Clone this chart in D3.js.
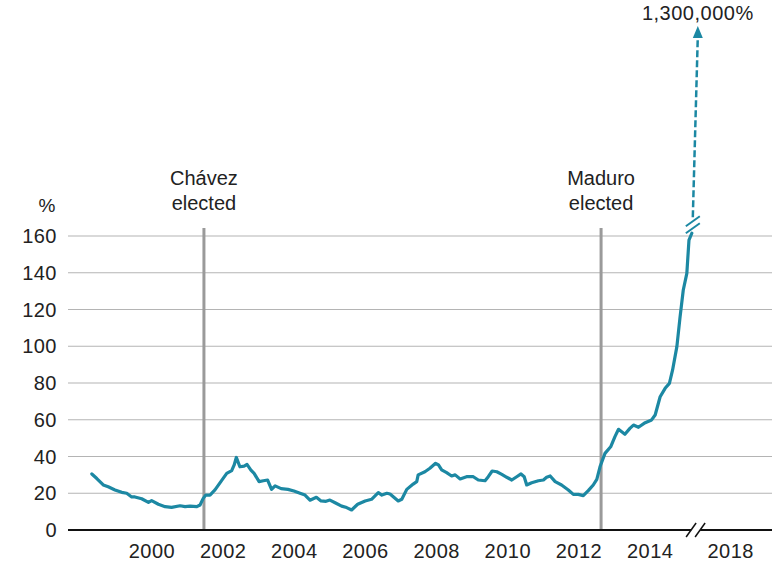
<!DOCTYPE html>
<html>
<head>
<meta charset="utf-8">
<script src="https://cdn.jsdelivr.net/npm/d3@7"></script>
<style>
  body { margin: 0; background: #fff; }
  svg text { font-family: "Liberation Sans", Arial, sans-serif; fill: #222; }
</style>
</head>
<body>
<svg id="chart" width="778" height="571"></svg>
<script>
// inflation, % (year as decimal)
const years = [1998.31, 1998.45, 1998.63, 1998.77, 1998.96, 1999.15, 1999.29, 1999.43, 1999.52, 1999.71,
  1999.90, 1999.99, 2000.18, 2000.37, 2000.55, 2000.79, 2000.93, 2001.07, 2001.26, 2001.35,
  2001.44, 2001.51, 2001.63, 2001.77, 2001.96, 2002.10, 2002.24, 2002.31, 2002.37, 2002.47,
  2002.59, 2002.67, 2002.78, 2002.87, 2003.01, 2003.13, 2003.25, 2003.36, 2003.46, 2003.63,
  2003.82, 2003.99, 2004.16, 2004.30, 2004.44, 2004.62, 2004.75, 2004.89, 2005.00, 2005.16,
  2005.33, 2005.47, 2005.61, 2005.78, 2005.99, 2006.17, 2006.36, 2006.46, 2006.60, 2006.69,
  2006.92, 2007.02, 2007.16, 2007.34, 2007.44, 2007.48, 2007.67, 2007.81, 2007.97, 2008.05,
  2008.14, 2008.28, 2008.42, 2008.52, 2008.66, 2008.84, 2009.03, 2009.17, 2009.36, 2009.45,
  2009.56, 2009.69, 2009.83, 2009.97, 2010.11, 2010.25, 2010.37, 2010.46, 2010.53, 2010.67,
  2010.86, 2011.00, 2011.09, 2011.19, 2011.33, 2011.51, 2011.70, 2011.84, 2011.98, 2012.12,
  2012.26, 2012.40, 2012.50, 2012.59, 2012.73, 2012.89, 2013.01, 2013.11, 2013.29, 2013.43,
  2013.53, 2013.67, 2013.86, 2014.04, 2014.14, 2014.28, 2014.42, 2014.54, 2014.63, 2014.75,
  2014.84, 2014.93, 2015.03, 2015.09, 2015.17]
const values = [30.5, 28, 24.5, 23.5, 21.8, 20.5, 20, 18, 18, 17,
  15, 16, 14, 12.7, 12.3, 13.2, 12.7, 13, 12.7, 13.6,
  17.2, 19, 19, 21.8, 27, 30.8, 32.3, 35.4, 39.5, 34.4,
  34.8, 35.7, 32.6, 30.8, 26.3, 26.8, 27.2, 22.1, 24, 22.5,
  22.1, 21.2, 20, 19, 16.2, 17.8, 15.8, 15.6, 16.3, 14.7,
  13, 12.2, 10.9, 14, 15.8, 16.7, 20.3, 19, 20, 19.6,
  15.8, 16.7, 22.1, 25, 26.3, 30, 31.7, 33.6, 36.3, 35.4,
  32.7, 31.2, 29.4, 30, 27.8, 29, 29, 27.2, 26.8, 29,
  32.1, 31.7, 30.3, 28.7, 27.2, 29, 30.5, 29, 24.5, 25.7,
  26.8, 27.2, 28.7, 29.4, 26.3, 24.5, 21.8, 19.4, 19.4, 18.7,
  21.4, 24.5, 27.6, 34.4, 41.7, 45.3, 50.8, 54.8, 52.1, 55.3,
  57.1, 55.9, 58.4, 59.9, 62.6, 72.5, 77.1, 79.8, 87.1, 99.8,
  116, 130.6, 139.7, 157.8, 161.5]

const yTicks = [0, 20, 40, 60, 80, 100, 120, 140, 160]
const xTicks = [2000, 2002, 2004, 2006, 2008, 2010, 2012, 2014, 2018]
const events = [{year: 2001.46, label: ['Chávez', 'elected']},
                {year: 2012.62, label: ['Maduro', 'elected']}]
const peakLabel = '1,300,000%'

const colours = {line: '#1c88a3', grid: '#b4b4b4', event: '#9a9a9a', axis: '#111'}

const svg = d3.select('#chart')

// broken x axis: 2015.4 -> 2017.4 squeezed into the break
const x = d3.scaleLinear()
    .domain([1997.64, 2015.4, 2017.4, 2019.2])
    .range([68, 700, 710, 772])
const y = d3.scaleLinear().domain([0, 160]).range([530, 236])

// gridlines
svg.append('g')
    .selectAll('line')
    .data(yTicks.filter(d => d > 0))
    .join('line')
    .attr('x1', 68).attr('x2', 772)
    .attr('y1', d => y(d)).attr('y2', d => y(d))
    .attr('stroke', colours.grid)
    .attr('stroke-width', 1.2)

// y labels
svg.append('g')
    .selectAll('text')
    .data(yTicks)
    .join('text')
    .attr('x', 57)
    .attr('y', d => y(d) + 7)
    .attr('text-anchor', 'end')
    .attr('font-size', 20)
    .attr('letter-spacing', 0.5)
    .text(d => d)

svg.append('text')
    .attr('x', 47).attr('y', 212)
    .attr('text-anchor', 'middle')
    .attr('font-size', 19)
    .text('%')

// event markers
const ev = svg.append('g')
    .selectAll('g')
    .data(events)
    .join('g')
ev.append('line')
    .attr('x1', d => x(d.year)).attr('x2', d => x(d.year))
    .attr('y1', 228).attr('y2', 530)
    .attr('stroke', colours.event)
    .attr('stroke-width', 3)
ev.append('text')
    .attr('x', d => x(d.year))
    .attr('text-anchor', 'middle')
    .attr('font-size', 20)
    .selectAll('tspan')
    .data(d => d.label)
    .join('tspan')
    .attr('x', function() { return d3.select(this.parentNode).attr('x') })
    .attr('y', (d, i) => 185 + i * 25)
    .text(d => d)

// zero axis with break
const gap = [x(2015.15), x(2015.15) + 9]
svg.append('line')
    .attr('x1', 68).attr('x2', 772)
    .attr('y1', y(0)).attr('y2', y(0))
    .attr('stroke', colours.axis)
    .attr('stroke-width', 2)
svg.append('rect')
    .attr('x', gap[0]).attr('y', y(0) - 3)
    .attr('width', gap[1] - gap[0]).attr('height', 6)
    .attr('fill', '#fff')
svg.append('g')
    .selectAll('line')
    .data(gap)
    .join('line')
    .attr('x1', d => d - 5).attr('x2', d => d + 5)
    .attr('y1', y(0) + 7).attr('y2', y(0) - 7)
    .attr('stroke', colours.axis)
    .attr('stroke-width', 1.5)

// x labels
svg.append('g')
    .selectAll('text')
    .data(xTicks)
    .join('text')
    .attr('x', d => x(d))
    .attr('y', 558)
    .attr('text-anchor', 'middle')
    .attr('font-size', 20)
    .attr('letter-spacing', 0.5)
    .text(d => d)

// main line
const data = years.map((yr, i) => ({year: yr, value: values[i]}))
svg.append('path')
    .datum(data)
    .attr('fill', 'none')
    .attr('stroke', colours.line)
    .attr('stroke-width', 3.2)
    .attr('stroke-linejoin', 'round')
    .attr('stroke-linecap', 'round')
    .attr('d', d3.line().x(d => x(d.year)).y(d => y(d.value)))

// break on the line and dashed arrow to the peak
const last = data[data.length - 1]
const bx = x(last.year) + 1
const by = y(last.value) - 4
svg.append('g')
    .selectAll('line')
    .data([0, 7])
    .join('line')
    .attr('x1', d => bx - 7).attr('x2', d => bx + 7)
    .attr('y1', d => by - d + 4).attr('y2', d => by - d - 6)
    .attr('stroke', colours.line)
    .attr('stroke-width', 2)

const tipX = bx + 5
const tipY = 30
svg.append('line')
    .attr('x1', bx).attr('y1', by - 12)
    .attr('x2', tipX).attr('y2', tipY + 6)
    .attr('stroke', colours.line)
    .attr('stroke-width', 2.5)
    .attr('stroke-dasharray', '7,3')
svg.append('path')
    .attr('d', `M${tipX - 5},${tipY + 8} L${tipX},${tipY - 4} L${tipX + 5},${tipY + 8} Z`)
    .attr('fill', colours.line)

svg.append('text')
    .attr('x', tipX)
    .attr('y', 20)
    .attr('text-anchor', 'middle')
    .attr('font-size', 20)
    .attr('letter-spacing', 0.5)
    .text(peakLabel)
</script>
</body>
</html>
